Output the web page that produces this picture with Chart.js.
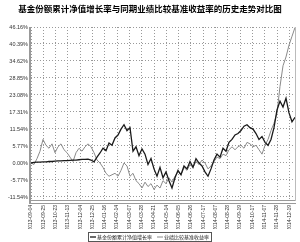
<!DOCTYPE html>
<html><head><meta charset="utf-8">
<script src="https://cdn.jsdelivr.net/npm/chart.js@4"></script>
<style>html,body{margin:0;padding:0;background:#fff;}#wrap{width:300px;height:242px;}</style>
</head><body><div id="wrap"><canvas id="c" width="300" height="242"></canvas></div>
<script>
const chartTitle = '基金份额累计净值增长率与同期业绩比较基准收益率的历史走势对比图';
const seriesNames = ['基金份额累计净值增长率', '业绩比较基准收益率'];
const xTickLabels = ['2013-09-04','2013-09-25','2013-10-23','2013-11-13','2013-12-04','2013-12-25','2014-01-16','2014-02-14','2014-03-07','2014-03-28','2014-04-21','2014-05-14','2014-06-05','2014-06-26','2014-07-17','2014-08-07','2014-08-28','2014-09-19','2014-10-17','2014-11-07','2014-11-28','2014-12-19'];
const yTickValues = [-11.54, -5.77, 0, 5.77, 11.54, 17.31, 23.08, 28.85, 34.62, 40.39, 46.16];
const fundValues = [0,0.2,0.3,0.3,0.4,0.4,0.5,0.5,0.6,0.7,0.7,0.8,0.8,0.9,1.0,1.0,1.1,1.2,1.2,1.3,
  1.0,0.4,2.0,3.4,5.0,4.2,6.8,6.0,8.5,9.5,11.5,13.0,11.0,12.0,4.0,5.5,2.5,4.8,3.0,-0.5,
  1.5,-2.0,-4.5,-1.5,-5.0,-3.0,-6.0,-8.5,-5.0,-2.5,-4.0,-1.0,-2.0,0.5,-1.5,1.5,0.0,-1.0,-3.0,-4.5,
  -2.0,1.0,3.0,2.0,5.0,4.0,7.0,8.0,9.5,10.0,11.0,12.5,13.0,12.0,11.5,10.0,8.0,9.0,7.0,6.0,
  8.0,12.0,18.0,21.0,19.0,22.0,17.0,14.0,15.5];
const benchValues = [0,-0.5,1.5,4.0,8.0,6.0,5.0,6.5,3.5,5.5,6.5,4.5,3.5,2.0,0.5,3.5,5.0,4.0,5.5,6.5,
  5.5,3.5,1.0,0.0,-1.5,-3.5,-4.5,-4.0,-3.5,-4.5,-2.5,0.0,-1.0,-4.5,-3.5,-6.0,-7.0,-8.5,-6.5,-8.0,
  -7.0,-9.0,-7.5,-8.5,-6.0,-7.0,-5.0,-6.5,-4.5,-3.0,-4.0,-1.5,-2.5,-0.5,-1.5,0.5,-0.5,1.0,0.0,-2.0,
  -1.0,0.5,2.0,1.5,3.0,2.5,4.5,5.5,4.5,5.5,6.0,5.0,7.0,6.5,5.5,6.0,4.5,3.0,6.0,8.0,
  11.0,13.5,17.0,26.0,33.0,36.0,40.0,43.0,46.0];

const xStep = 4.1;
const pts = arr => arr.map((v, i) => ({x: i, y: v}));

const decor = {
  id: 'decor',
  afterDraw(chart) {
    const ctx = chart.ctx, ca = chart.chartArea;
    ctx.save();
    // title
    ctx.fillStyle = '#000';
    ctx.font = 'bold 8.5px "Noto Sans CJK SC"';
    ctx.textAlign = 'center';
    ctx.textBaseline = 'middle';
    ctx.fillText(chartTitle, 150, 9);
    // borders
    ctx.fillStyle = '#999';
    ctx.fillRect(ca.left - 2, ca.top, 2, ca.bottom - ca.top + 3);
    ctx.strokeStyle = '#999';
    ctx.lineWidth = 1;
    ctx.beginPath();
    ctx.moveTo(ca.left, ca.bottom - 0.5); ctx.lineTo(ca.right + 1, ca.bottom - 0.5);
    ctx.moveTo(ca.left - 2, ca.bottom + 2.5); ctx.lineTo(ca.right + 1, ca.bottom + 2.5);
    ctx.stroke();
    ctx.strokeStyle = '#bbb';
    ctx.beginPath();
    ctx.moveTo(ca.right + 0.5, ca.top); ctx.lineTo(ca.right + 0.5, ca.bottom);
    ctx.stroke();
    // legend
    ctx.font = '5px "Noto Sans CJK SC"';
    ctx.textAlign = 'left';
    const w1 = ctx.measureText(seriesNames[0]).width;
    const w2 = ctx.measureText(seriesNames[1]).width;
    const sw = 6, gap = 1, sep = 5, pad = 2;
    const total = pad + sw + gap + w1 + sep + sw + gap + w2 + pad;
    let x0 = Math.round(150 - total / 2);
    const y0 = 232, h = 9;
    ctx.strokeStyle = '#555';
    ctx.strokeRect(x0 + 0.5, y0 + 0.5, total, h);
    const cy = y0 + h / 2 + 0.5;
    let x = x0 + pad;
    ctx.strokeStyle = '#1a1a1a'; ctx.lineWidth = 1.3;
    ctx.beginPath(); ctx.moveTo(x, cy); ctx.lineTo(x + sw, cy); ctx.stroke();
    x += sw + gap;
    ctx.fillStyle = '#222';
    ctx.fillText(seriesNames[0], x, cy);
    x += w1 + sep;
    ctx.strokeStyle = '#8a8a8a'; ctx.lineWidth = 1;
    ctx.beginPath(); ctx.moveTo(x, cy); ctx.lineTo(x + sw, cy); ctx.stroke();
    x += sw + gap;
    ctx.fillText(seriesNames[1], x, cy);
    ctx.restore();
  }
};

new Chart(document.getElementById('c'), {
  type: 'line',
  data: {
    datasets: [
      {label: seriesNames[0], data: pts(fundValues), borderColor: '#1a1a1a', borderWidth: 1.3, pointRadius: 0, tension: 0},
      {label: seriesNames[1], data: pts(benchValues), borderColor: '#8a8a8a', borderWidth: 1, pointRadius: 0, tension: 0}
    ]
  },
  options: {
    responsive: false,
    animation: false,
    devicePixelRatio: 1,
    layout: {padding: {left: 0, right: 5, top: 27, bottom: 13}},
    plugins: {legend: {display: false}, title: {display: false}, tooltip: {enabled: false}},
    scales: {
      x: {
        type: 'linear', min: 0, max: fundValues.length - 1,
        afterBuildTicks: s => { s.ticks = xTickLabels.map((_, k) => ({value: k * xStep})); },
        afterFit: s => { s.height = 28; },
        ticks: {autoSkip: false, minRotation: 90, maxRotation: 90, padding: 4,
          font: {size: 5, family: 'Liberation Sans'}, color: '#333',
          callback: (v, i) => xTickLabels[i]},
        grid: {color: '#999', lineWidth: 1, drawTicks: false},
        border: {display: false, dash: [1, 2]}
      },
      y: {
        type: 'linear', min: -12.9, max: 46.16,
        afterBuildTicks: s => { s.ticks = yTickValues.map(v => ({value: v})); },
        afterFit: s => { s.width = 31; },
        ticks: {padding: 3, font: {size: 5.5, family: 'Liberation Sans'}, color: '#333',
          callback: v => v.toFixed(2) + '%'},
        grid: {color: '#999', lineWidth: 1, drawTicks: false},
        border: {display: false, dash: [1, 2]}
      }
    }
  },
  plugins: [decor]
});
</script>
</body></html>
